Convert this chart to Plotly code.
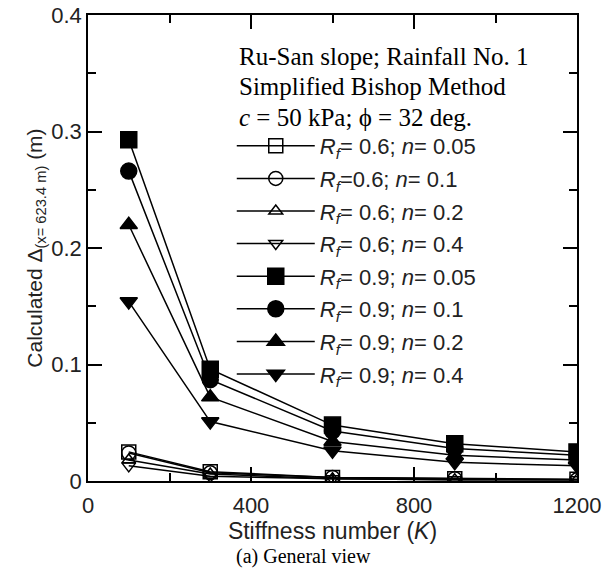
import plotly.graph_objects as go

# stiffness numbers K
stiffness = [100, 300, 600, 900, 1200]

# calculated displacement (m)
rf06_n005 = [0.025, 0.008, 0.003, 0.002, 0.0015]
rf06_n01 = [0.024, 0.007, 0.003, 0.002, 0.001]
rf06_n02 = [0.018, 0.006, 0.002, 0.001, 0.001]
rf06_n04 = [0.013, 0.004, 0.002, 0.001, 0.001]
rf09_n005 = [0.293, 0.096, 0.048, 0.032, 0.025]
rf09_n01 = [0.266, 0.087, 0.043, 0.028, 0.022]
rf09_n02 = [0.220, 0.072, 0.034, 0.022, 0.018]
rf09_n04 = [0.154, 0.051, 0.026, 0.016, 0.013]

labels = [
    "<i>R</i><sub><i>f</i></sub>= 0.6; <i>n</i>= 0.05",
    "<i>R</i><sub><i>f</i></sub>=0.6; <i>n</i>= 0.1",
    "<i>R</i><sub><i>f</i></sub>= 0.6; <i>n</i>= 0.2",
    "<i>R</i><sub><i>f</i></sub>= 0.6; <i>n</i>= 0.4",
    "<i>R</i><sub><i>f</i></sub>= 0.9; <i>n</i>= 0.05",
    "<i>R</i><sub><i>f</i></sub>= 0.9; <i>n</i>= 0.1",
    "<i>R</i><sub><i>f</i></sub>= 0.9; <i>n</i>= 0.2",
    "<i>R</i><sub><i>f</i></sub>= 0.9; <i>n</i>= 0.4",
]
series = [rf06_n005, rf06_n01, rf06_n02, rf06_n04,
          rf09_n005, rf09_n01, rf09_n02, rf09_n04]
symbols = ["square-open", "circle-open", "triangle-up-open", "triangle-down-open",
           "square", "circle", "triangle-up", "triangle-down"]
sizes = [14, 14, 12, 12, 16, 16, 15, 15]

header_lines = [
    "Ru-San slope; Rainfall No. 1",
    "Simplified Bishop Method",
    "<i>c</i> = 50 kPa; ϕ = 32 deg.",
]
header_y = [0.912, 0.846, 0.781]

SANS = "Liberation Sans, Arial, sans-serif"
SERIF = "Liberation Serif, Times New Roman, serif"

fig = go.Figure()
for i, (ys, name, sym, sz) in enumerate(zip(series, labels, symbols, sizes)):
    fig.add_trace(go.Scatter(
        x=stiffness, y=ys, name=name, mode="lines+markers",
        line=dict(color="black", width=1.5),
        marker=dict(symbol=sym, size=sz, color="black", line=dict(color="black", width=1.5)),
        legendgroup=f"g{i}",
    ))

axis_common = dict(
    showline=True, linecolor="black", linewidth=1.5, mirror="ticks",
    ticks="inside", ticklen=14, tickwidth=1.5, tickcolor="black",
    showgrid=False, zeroline=False, automargin=False, ticklabeloverflow="allow",
    tickfont=dict(family=SANS, size=22, color="#222"),
)

fig.update_xaxes(
    range=[0, 1200], tickvals=[0, 400, 800, 1200], ticklabelstandoff=4,
    minor=dict(ticks="inside", ticklen=8, tickwidth=1.5, tickcolor="black", dtick=200, tick0=0),
    title=dict(text="Stiffness number (<i>K</i>)", font=dict(family=SANS, size=23, color="#222"), standoff=5),
    **axis_common,
)
fig.update_yaxes(
    range=[0, 0.4], tickvals=[0, 0.1, 0.2, 0.3, 0.4],
    minor=dict(ticks="inside", ticklen=8, tickwidth=1.5, tickcolor="black", dtick=0.05, tick0=0),
    title=dict(text="Calculated Δ<sub>(x= 623.4 m)</sub> (m)", font=dict(family=SANS, size=21, color="#222"), standoff=3),
    **axis_common,
)

for line, yy in zip(header_lines, header_y):
    fig.add_annotation(
        text=line, xref="paper", yref="paper", x=0.305, y=yy,
        xanchor="left", yanchor="middle", align="left", showarrow=False,
        font=dict(family=SERIF, size=25, color="black"),
    )
fig.add_annotation(
    text="(a) General view",
    xref="paper", yref="paper", x=0.44, y=-0.163, xanchor="center", yanchor="middle",
    showarrow=False, font=dict(family=SERIF, size=20, color="black"),
)

fig.update_layout(
    template="simple_white",
    width=606, height=567,
    margin=dict(l=80, r=37, t=7, b=94),
    plot_bgcolor="white", paper_bgcolor="white",
    showlegend=True,
    legend=dict(
        x=0.294, y=0.764, xanchor="left", yanchor="top",
        bgcolor="rgba(0,0,0,0)", font=dict(family=SANS, size=22, color="#222"),
        tracegroupgap=1, itemwidth=78,
    ),
)

fig.write_html("out.html")
